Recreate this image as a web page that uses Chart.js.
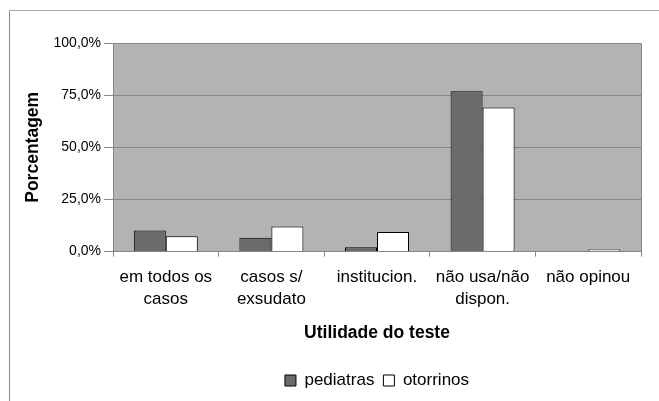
<!DOCTYPE html>
<html>
<head>
<meta charset="utf-8">
<script src="https://cdn.jsdelivr.net/npm/chart.js@4/dist/chart.umd.min.js"></script>
<style>
  html, body { margin: 0; padding: 0; background: #fff; }
  #wrap { width: 659px; height: 401px; position: relative; }
</style>
</head>
<body>
<div id="wrap"><canvas id="chart" width="659" height="401"></canvas></div>
<script>
const categories = [
  ['em todos os', 'casos'],
  ['casos s/', 'exsudato'],
  ['institucion.'],
  ['não usa/não', 'dispon.'],
  ['não opinou'],
];
const pediatras = [10.1, 6.7, 2.1, 76.9, 0];
const otorrinos = [7.4, 12.0, 9.4, 69.1, 1.0];
const yTicks = [0, 25, 50, 75, 100];

const FONT = 'Liberation Sans, Arial, sans-serif';
const GRID = '#868686';

// grey plot background, plot border and the outer chart frame
const framePlugin = {
  id: 'frame',
  beforeDraw(chart) {
    const { ctx, chartArea: a } = chart;
    ctx.save();
    ctx.fillStyle = '#b3b3b3';
    ctx.fillRect(a.left, a.top, a.right - a.left, a.bottom - a.top);
    ctx.strokeStyle = '#8a8a8a';
    ctx.lineWidth = 1;
    ctx.beginPath();
    ctx.moveTo(9.5, 401);
    ctx.lineTo(9.5, 10.5);
    ctx.stroke();
    ctx.strokeStyle = '#aaaaaa';
    ctx.beginPath();
    ctx.moveTo(9.5, 10.5);
    ctx.lineTo(659, 10.5);
    ctx.stroke();
    ctx.restore();
  },
  afterDatasetsDraw(chart) {
    const { ctx, chartArea: a } = chart;
    ctx.save();
    ctx.strokeStyle = GRID;
    ctx.lineWidth = 1;
    ctx.beginPath();
    ctx.moveTo(a.left, Math.round(a.top) + 0.5);
    ctx.lineTo(Math.round(a.right) + 0.5, Math.round(a.top) + 0.5);
    ctx.lineTo(Math.round(a.right) + 0.5, a.bottom);
    ctx.stroke();
    ctx.restore();
  },
};

new Chart(document.getElementById('chart'), {
  type: 'bar',
  data: {
    labels: categories,
    datasets: [
      {
        label: 'pediatras',
        data: pediatras,
        backgroundColor: '#6b6b6b',
        borderColor: '#000',
        borderWidth: 1,
        categoryPercentage: 0.606,
        barPercentage: 1,
      },
      {
        label: 'otorrinos',
        data: otorrinos,
        backgroundColor: '#ffffff',
        borderColor: '#000',
        borderWidth: 1,
        categoryPercentage: 0.606,
        barPercentage: 1,
      },
    ],
  },
  options: {
    responsive: false,
    animation: false,
    layout: { padding: { top: 43, right: 18, left: 0, bottom: 2 } },
    scales: {
      x: {
        grid: {
          offset: true,
          drawOnChartArea: false,
          tickLength: 5,
          color: GRID,
        },
        border: { color: GRID },
        ticks: {
          font: { family: FONT, size: 17, lineHeight: 1.335 },
          color: '#000',
          padding: 9,
          maxRotation: 0,
          autoSkip: false,
        },
        title: {
          display: true,
          text: 'Utilidade do teste',
          font: { family: FONT, size: 17.5, weight: 'bold', lineHeight: 1.2 },
          color: '#000',
          padding: { top: 3, bottom: 19 },
        },
      },
      y: {
        min: 0,
        max: 100,
        afterBuildTicks(scale) {
          scale.ticks = yTicks.map((v) => ({ value: v }));
        },
        afterFit(scale) {
          scale.width = 113;
        },
        grid: { color: GRID, tickLength: 9 },
        border: { color: GRID },
        ticks: {
          font: { family: FONT, size: 14 },
          color: '#000',
          padding: 3,
          callback: (v) => v.toFixed(1).replace('.', ',') + '%',
        },
        title: {
          display: true,
          text: 'Porcentagem',
          font: { family: FONT, size: 17.5, weight: 'bold', lineHeight: 1.2 },
          color: '#000',
          padding: { top: 23, bottom: 0 },
        },
      },
    },
    plugins: {
      legend: {
        position: 'bottom',
        fullSize: false,
        labels: {
          font: { family: FONT, size: 17 },
          color: '#000',
          boxWidth: 11,
          boxHeight: 11,
          padding: 9,
        },
      },
      tooltip: { enabled: false },
    },
  },
  plugins: [framePlugin],
});
</script>
</body>
</html>
